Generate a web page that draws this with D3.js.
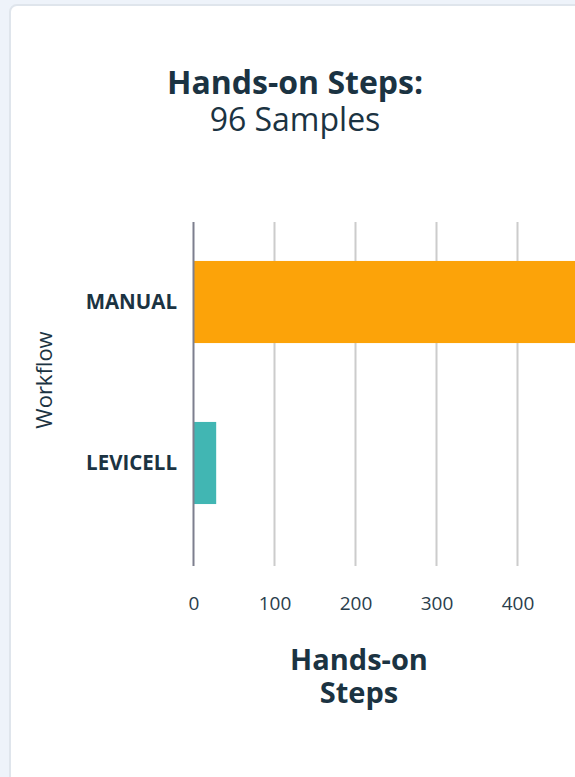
<!DOCTYPE html>
<html>
<head>
<meta charset="utf-8">
<script src="https://cdn.jsdelivr.net/npm/d3@7"></script>
<style>
  html, body { margin: 0; padding: 0; background: #eef3fa; overflow: hidden; }
  #card {
    position: absolute; left: 9px; top: 4px; width: 590px; height: 800px;
    background: #fff; border: 2px solid #dfe5ec; border-radius: 8px; box-sizing: border-box;
  }
  svg { position: absolute; left: 0; top: 0; }
  text { font-family: "Open Sans", sans-serif; fill: #1b3342; }
</style>
</head>
<body>
<div id="card"></div>
<div id="chart"></div>
<script>
// chart data
var workflows = ["MANUAL", "LEVICELL"];
var steps = [520, 28];
var barColors = ["#fca309", "#41b6b3"];
var xTicks = [0, 100, 200, 300, 400];
var gridTicks = [100, 200, 300, 400, 500];

var svgWidth = 575;
var svgHeight = 777;

var svg = d3.select("#chart").append("svg")
    .attr("width", svgWidth)
    .attr("height", svgHeight);

// titles
svg.append("text")
    .attr("x", 295).attr("y", 94)
    .attr("text-anchor", "middle")
    .attr("font-size", "32px").attr("font-weight", "bold")
    .text("Hands-on Steps:");
svg.append("text")
    .attr("x", 295).attr("y", 131)
    .attr("text-anchor", "middle")
    .attr("font-size", "32px")
    .text("96 Samples");

// scales
var xScale = d3.scaleLinear()
    .domain([0, 100])
    .range([193.5, 274.5]);

var yScale = d3.scaleBand()
    .domain(workflows)
    .range([222, 543])
    .paddingInner(0.49)
    .paddingOuter(0.242);

var gridTop = 222, gridBottom = 566;

// gridlines
svg.append("g")
    .selectAll("line")
    .data(gridTicks)
    .enter()
    .append("line")
    .attr("x1", d => xScale(d)).attr("x2", d => xScale(d))
    .attr("y1", gridTop).attr("y2", gridBottom)
    .attr("stroke", "#cccccc")
    .attr("stroke-width", 2);

// bars
svg.append("g")
    .selectAll("rect")
    .data(workflows)
    .enter()
    .append("rect")
    .attr("x", xScale(0))
    .attr("y", d => yScale(d))
    .attr("width", (d, i) => xScale(steps[i]) - xScale(0))
    .attr("height", yScale.bandwidth())
    .attr("fill", (d, i) => barColors[i]);

// zero line
svg.append("line")
    .attr("x1", xScale(0)).attr("x2", xScale(0))
    .attr("y1", gridTop).attr("y2", gridBottom)
    .attr("stroke", "#7d7f8e")
    .attr("stroke-width", 2);

// x axis tick labels
var xAxis = d3.axisBottom(xScale)
    .tickValues(xTicks)
    .tickSize(0)
    .tickPadding(0)
    .tickFormat(d3.format("d"));

var xAxisGroup = svg.append("g")
    .attr("transform", "translate(0, 610)")
    .call(xAxis);
xAxisGroup.select(".domain").remove();
xAxisGroup.selectAll("text")
    .attr("dy", 0)
    .attr("font-size", "19px")
    .attr("font-family", "Open Sans, sans-serif")
    .style("fill", "#2a3d4b");

// y axis category labels
var yAxis = d3.axisLeft(yScale).tickSize(0).tickPadding(0);
var yAxisGroup = svg.append("g")
    .attr("transform", "translate(177, 0)")
    .call(yAxis);
yAxisGroup.select(".domain").remove();
yAxisGroup.selectAll("text")
    .attr("font-size", "20.5px")
    .attr("font-weight", "bold")
    .attr("font-family", "Open Sans, sans-serif")
    .style("fill", "#1b3342");

// axis titles
var xLabel = svg.append("text")
    .attr("x", 359).attr("y", 670)
    .attr("text-anchor", "middle")
    .attr("font-size", "29px").attr("font-weight", "bold");
xLabel.append("tspan").attr("x", 359).text("Hands-on");
xLabel.append("tspan").attr("x", 359).attr("dy", 33).text("Steps");

svg.append("text")
    .attr("transform", "translate(52, 380) rotate(-90)")
    .attr("text-anchor", "middle")
    .attr("font-size", "22px")
    .text("Workflow");
</script>
</body>
</html>
